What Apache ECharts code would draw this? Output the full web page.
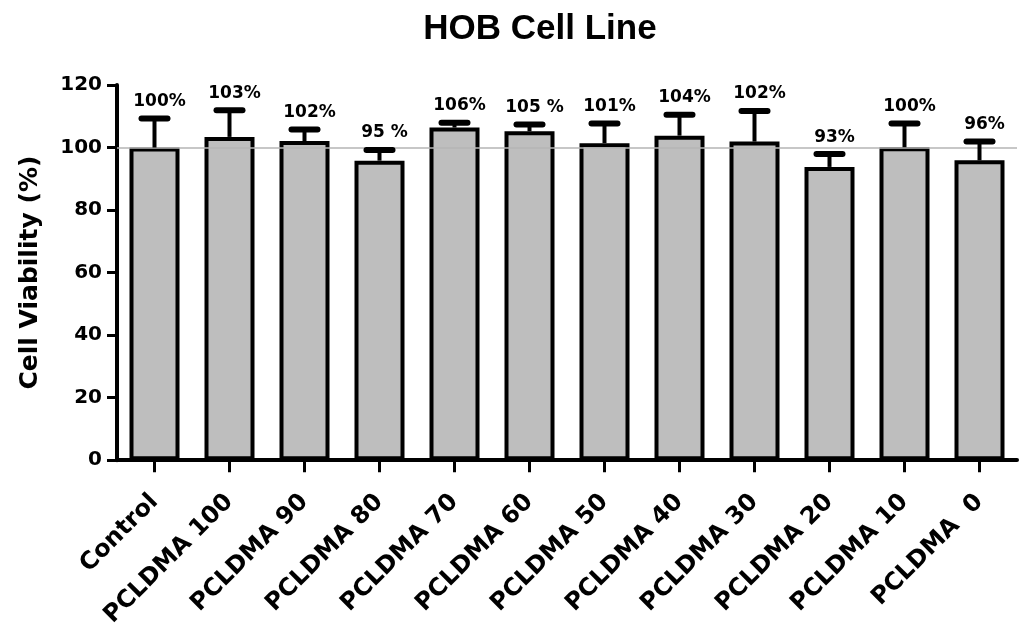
<!DOCTYPE html>
<html>
<head>
<meta charset="utf-8">
<script src="https://cdn.jsdelivr.net/npm/echarts@6/dist/echarts.min.js"></script>
<style>html,body{margin:0;padding:0;background:#fff;}#c{width:1019px;height:630px;}</style>
</head>
<body>
<div id="c"></div>
<script>
const categories = ["Control","PCLDMA 100","PCLDMA 90","PCLDMA 80","PCLDMA 70","PCLDMA 60","PCLDMA 50","PCLDMA 40","PCLDMA 30","PCLDMA 20","PCLDMA 10","PCLDMA  0"];
const viability = [100.0, 103.4, 102.1, 95.8, 106.4, 105.2, 101.4, 103.8, 101.9, 93.8, 100.1, 95.9];
const errorSD = [9.3, 8.5, 3.7, 3.4, 1.5, 2.2, 6.3, 6.7, 9.8, 4.1, 7.6, 6.0];
const valueLabels = ["100%","103%","102%","95 %","106%","105 %","101%","104%","102%","93%","100%","96%"];
const yTicks = [0, 20, 40, 60, 80, 100, 120];

const FONT = "'DejaVu Sans', sans-serif";
const chart = echarts.init(document.getElementById('c'), null, {renderer: 'canvas'});

const errData = categories.map((c, i) => [i, viability[i], errorSD[i], valueLabels[i]]);

chart.setOption({
  animation: false,
  backgroundColor: '#ffffff',
  title: {
    text: 'HOB Cell Line',
    left: 535,
    textAlign: 'center',
    top: 7,
    textStyle: {fontFamily: "'Liberation Sans', Arial, sans-serif", fontWeight: 'bold', fontSize: 35, color: '#000'}
  },
  grid: {left: 117, right: 2, top: 85, bottom: 165, containLabel: false},
  xAxis: {
    type: 'category',
    data: categories,
    axisLine: {lineStyle: {color: '#000', width: 4}},
    axisTick: {show: true, alignWithLabel: true, length: 12, lineStyle: {color: '#000', width: 3}},
    axisLabel: {
      interval: 0, rotate: 45, margin: 38,
      fontFamily: FONT, fontWeight: 'bold', fontSize: 24, color: '#000'
    },
    splitLine: {show: false}
  },
  yAxis: {
    type: 'value',
    min: yTicks[0], max: yTicks[yTicks.length - 1], interval: 20,
    name: 'Cell Viability (%)',
    nameLocation: 'middle',
    nameGap: 74,
    nameTextStyle: {fontFamily: FONT, fontWeight: 'bold', fontSize: 25, color: '#000'},
    axisLine: {show: true, lineStyle: {color: '#000', width: 4}},
    axisTick: {show: true, length: 10, lineStyle: {color: '#000', width: 3}},
    axisLabel: {margin: 15, fontFamily: FONT, fontWeight: 'bold', fontSize: 20, color: '#000'},
    splitLine: {show: false}
  },
  series: [
    {
      type: 'bar',
      data: viability,
      barWidth: 50,
      itemStyle: {color: '#bebebe', borderColor: '#000', borderWidth: 4},
      z: 2,
      markLine: {
        silent: true,
        symbol: ['none', 'none'],
        label: {show: false},
        lineStyle: {color: '#b4b4b4', width: 1.5, type: 'solid'},
        data: [{yAxis: 100}],
        z: 5
      }
    },
    {
      type: 'custom',
      data: errData,
      z: 6,
      renderItem: function (params, api) {
        const i = api.value(0);
        const v = api.value(1);
        const sd = api.value(2);
        const lbl = valueLabels[params.dataIndex];
        const base = api.coord([i, v]);
        const top = api.coord([i, v + sd]);
        const x = base[0];
        return {
          type: 'group',
          children: [
            {type: 'line', shape: {x1: x, y1: base[1], x2: x, y2: top[1]}, style: {stroke: '#000', lineWidth: 4}},
            {type: 'line', shape: {x1: x - 13, y1: top[1], x2: x + 13, y2: top[1]}, style: {stroke: '#000', lineWidth: 6, lineCap: 'round'}},
            {type: 'text', style: {x: x + 5, y: top[1] - 17, text: lbl, textAlign: 'center', textVerticalAlign: 'middle', font: "bold 17px 'DejaVu Sans', sans-serif", fill: '#000'}}
          ]
        };
      }
    }
  ]
});
</script>
</body>
</html>
